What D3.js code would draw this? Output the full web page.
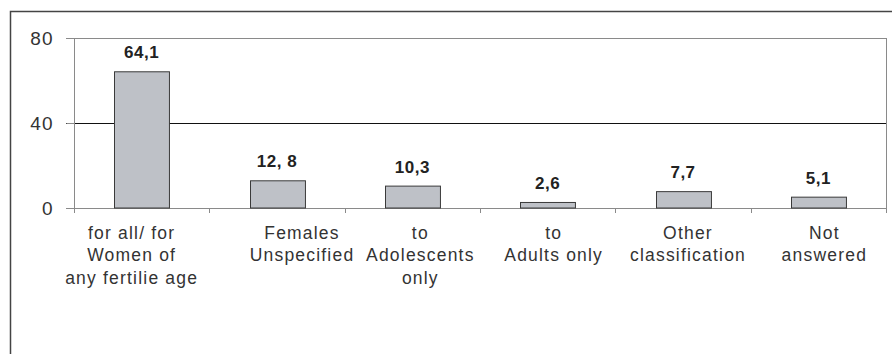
<!DOCTYPE html>
<html>
<head>
<meta charset="utf-8">
<script src="https://cdn.jsdelivr.net/npm/d3@7"></script>
<style>
  html, body { margin: 0; padding: 0; background: #fff; }
  svg { display: block; font-family: "Liberation Sans", Arial, sans-serif; }
</style>
</head>
<body>
<svg id="chart" width="892" height="354"></svg>
<script>
// Categories (each entry is the wrapped lines of its axis label)
const categories = [
  ["for all/ for", "Women of", "any fertilie age"],
  ["Females", "Unspecified"],
  ["to", "Adolescents", "only"],
  ["to", "Adults only"],
  ["Other", "classification"],
  ["Not", "answered"]
];
// Share per category (%)
const values = [64.1, 12.8, 10.3, 2.6, 7.7, 5.1];
// Value labels as printed above the bars
const valueLabels = ["64,1", "12, 8", "10,3", "2,6", "7,7", "5,1"];
// Y axis ticks
const yTicks = [0, 40, 80];

// Layout
const W = 892, H = 354;
const plot = { left: 74, right: 886, top: 38, bottom: 208 };
// horizontal nudges of the wrapped category labels
const labelNudge = [-10, 25, 8, 6, 5, 6];

const svg = d3.select("#chart");

// Outer frame (top and left edges only)
svg.append("path")
  .attr("d", `M10.5,${H} L10.5,11.5 L${W},11.5`)
  .attr("fill", "none")
  .attr("stroke", "#444")
  .attr("stroke-width", 1.5);

const x = d3.scaleBand()
  .domain(d3.range(categories.length))
  .range([plot.left, plot.right])
  .paddingInner(0.594)
  .paddingOuter(0.297);

const xStep = d3.scaleBand()
  .domain(d3.range(categories.length))
  .range([plot.left, plot.right]);

const y = d3.scaleLinear()
  .domain([0, 80])
  .range([plot.bottom, plot.top]);

// Gridline at 40 (black), top edge at 80 (gray)
svg.append("g")
  .selectAll("line")
  .data(yTicks.filter(t => t > 0))
  .join("line")
  .attr("x1", plot.left - 8)
  .attr("x2", plot.right)
  .attr("y1", d => Math.round(y(d)) + 0.5)
  .attr("y2", d => Math.round(y(d)) + 0.5)
  .attr("stroke", d => d === 80 ? "#8a8a8a" : "#111")
  .attr("stroke-width", 1);

// Right edge of plot area
svg.append("line")
  .attr("x1", plot.right + 0.5).attr("x2", plot.right + 0.5)
  .attr("y1", y(80)).attr("y2", plot.bottom + 5)
  .attr("stroke", "#8a8a8a");

// Y axis
const yAxis = d3.axisLeft(y)
  .tickValues(yTicks)
  .tickSize(8)
  .tickPadding(13)
  .tickFormat(d3.format("d"));

const gy = svg.append("g")
  .attr("transform", `translate(${plot.left + 0.5},0)`)
  .call(yAxis);
gy.select(".domain").attr("stroke", "#8a8a8a").attr("d", `M0,${plot.top}V${plot.bottom + 5}`);
gy.selectAll(".tick line").attr("stroke", "#8a8a8a");
gy.selectAll(".tick text")
  .attr("font-size", 19)
  .attr("letter-spacing", "1px")
  .attr("fill", "#333")
  .attr("font-family", "Liberation Sans, Arial, sans-serif");

// X baseline with category boundary ticks
svg.append("line")
  .attr("x1", plot.left - 8).attr("x2", plot.right)
  .attr("y1", plot.bottom + 0.5).attr("y2", plot.bottom + 0.5)
  .attr("stroke", "#8a8a8a");

const boundaries = d3.range(categories.length + 1).map(i =>
  i < categories.length ? xStep(i) : plot.right);
svg.append("g")
  .selectAll("line")
  .data(boundaries)
  .join("line")
  .attr("x1", d => Math.round(d) + 0.5)
  .attr("x2", d => Math.round(d) + 0.5)
  .attr("y1", plot.bottom)
  .attr("y2", plot.bottom + 5)
  .attr("stroke", "#8a8a8a");

// Bars
svg.append("g")
  .selectAll("rect")
  .data(values)
  .join("rect")
  .attr("x", (d, i) => Math.round(x(i)) + 0.5)
  .attr("y", d => y(d))
  .attr("width", x.bandwidth())
  .attr("height", d => plot.bottom - y(d))
  .attr("fill", "#bec1c7")
  .attr("stroke", "#3a3a3a")
  .attr("stroke-width", 1);

// Value labels
svg.append("g")
  .selectAll("text")
  .data(values)
  .join("text")
  .attr("x", (d, i) => x(i) + x.bandwidth() / 2)
  .attr("y", d => y(d) - 13.5)
  .attr("text-anchor", "middle")
  .attr("font-size", 17)
  .attr("font-weight", "bold")
  .attr("letter-spacing", "0.5px")
  .attr("fill", "#222")
  .text((d, i) => valueLabels[i]);

// Category labels
const cat = svg.append("g")
  .selectAll("text")
  .data(categories)
  .join("text")
  .attr("text-anchor", "middle")
  .attr("font-size", 17.5)
  .attr("letter-spacing", "1.2px")
  .attr("fill", "#333")
  .attr("transform", (d, i) =>
    `translate(${xStep(i) + xStep.bandwidth() / 2 + labelNudge[i]},238.5)`);

cat.selectAll("tspan")
  .data(d => d)
  .join("tspan")
  .attr("x", 0)
  .attr("y", (d, j) => j * 22.5)
  .text(d => d);
</script>
</body>
</html>
